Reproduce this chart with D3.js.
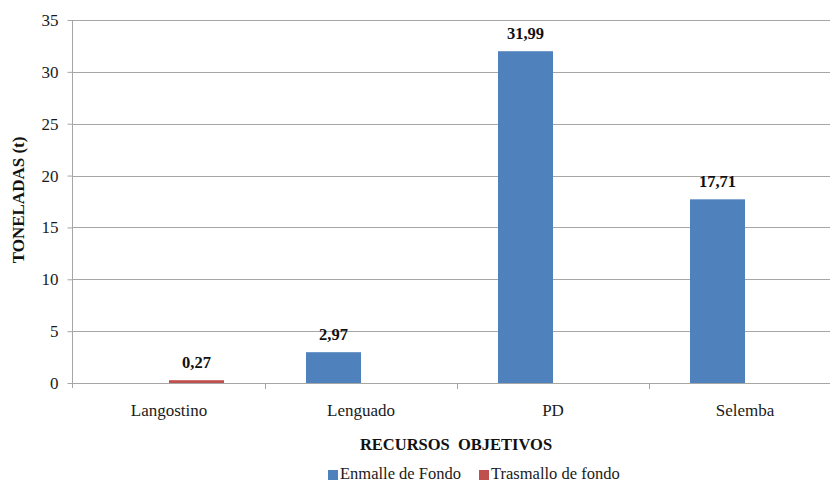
<!DOCTYPE html>
<html><head><meta charset="utf-8">
<script src="https://cdn.jsdelivr.net/npm/d3@7"></script>
<style>body{margin:0;background:#fff}svg{display:block}svg text{font-family:"Liberation Serif","DejaVu Serif",serif}</style>
</head><body><svg id="c" width="830" height="483"></svg>
<script>
const categories = ["Langostino", "Lenguado", "PD", "Selemba"];
const seriesNames = ["Enmalle de Fondo", "Trasmallo de fondo"];
const enmalle = [0, 2.97, 31.99, 17.71];
const trasmallo = [0.27, 0, 0, 0];
const yTicks = [0, 5, 10, 15, 20, 25, 30, 35];
const colors = ["#4F81BD", "#C0504D"];

(function () {
const svg = d3.select("#c");
const pLeft = 73, pRight = 841, pTop = 20, pBottom = 383;

const x = d3.scaleBand().domain(categories).range([pLeft, pRight]).paddingInner(0.427).paddingOuter(0.2135);
const xs = d3.scaleBand().domain(seriesNames).range([0, x.bandwidth()]);
const y = d3.scaleLinear().domain([0, 35]).range([pBottom, pTop]);

// gridlines
svg.append("g").selectAll("line").data(yTicks.filter(d => d > 0)).join("line")
  .attr("x1", pLeft).attr("x2", pRight).attr("y1", d => Math.round(y(d)) + 0.5).attr("y2", d => Math.round(y(d)) + 0.5)
  .attr("stroke", "#a6a6a6").attr("stroke-width", 1);

// y axis
const ya = svg.append("g").attr("transform", `translate(${pLeft - 0.5},0)`)
  .call(d3.axisLeft(y).tickValues(yTicks).tickSize(5).tickPadding(9).tickFormat(d3.format("d")));
ya.attr("font-family", null).attr("font-size", null);
ya.select(".domain").attr("stroke", "#a6a6a6").attr("d", `M0,${pTop}V${pBottom + 5}`);
ya.selectAll(".tick line").attr("stroke", "#a6a6a6");
ya.selectAll(".tick text").attr("font-size", 17).attr("fill", "#1a1a1a");

// x axis
svg.append("line").attr("x1", pLeft).attr("x2", pRight).attr("y1", pBottom + 0.5).attr("y2", pBottom + 0.5).attr("stroke", "#a6a6a6");
const bounds = categories.slice(1).map(c => x(c) - x.step() * x.paddingInner() / 2);
svg.append("g").selectAll("line").data(bounds).join("line")
  .attr("x1", d => Math.round(d) + 0.5).attr("x2", d => Math.round(d) + 0.5).attr("y1", pBottom).attr("y2", pBottom + 6)
  .attr("stroke", "#a6a6a6");
svg.append("g").selectAll("text").data(categories).join("text")
  .attr("x", d => x(d) + x.bandwidth() / 2).attr("y", 416).attr("text-anchor", "middle")
  .attr("font-size", 17).attr("fill", "#1a1a1a").text(d => d);

// bars
const seriesData = [enmalle, trasmallo];
seriesData.forEach((vals, si) => {
  const g = svg.append("g");
  const data = categories.map((c, i) => ({c, v: vals[i]})).filter(d => d.v > 0);
  g.selectAll("rect").data(data).join("rect")
    .attr("x", d => x(d.c) + xs(seriesNames[si])).attr("width", xs.bandwidth())
    .attr("y", d => y(d.v)).attr("height", d => y(0) - y(d.v))
    .attr("fill", colors[si]);
  g.selectAll("text").data(data).join("text")
    .attr("x", d => x(d.c) + xs(seriesNames[si]) + xs.bandwidth() / 2)
    .attr("y", d => y(d.v) - 12.5).attr("text-anchor", "middle")
    .attr("font-size", 16.5).attr("font-weight", "bold").attr("fill", "#111")
    .text(d => d.v.toFixed(2).replace(".", ","));
});

// axis titles
svg.append("text").attr("transform", "translate(24,200) rotate(-90)").attr("text-anchor", "middle")
  .attr("font-size", 17).attr("font-weight", "bold").attr("fill", "#111")
  .text("TONELADAS (t)");
svg.append("text").attr("x", 456).attr("y", 450).attr("text-anchor", "middle")
  .attr("font-size", 16.5).attr("font-weight", "bold").attr("fill", "#111")
  .style("white-space", "pre")
  .text("RECURSOS  OBJETIVOS");

// legend
const legX = [328, 479];
const lg = svg.append("g");
seriesNames.forEach((n, i) => {
  lg.append("rect").attr("x", legX[i]).attr("y", 470).attr("width", 10).attr("height", 10).attr("fill", colors[i]);
  lg.append("text").attr("x", legX[i] + 12).attr("y", 479).attr("font-size", 16.5)
    .attr("fill", "#1a1a1a").text(n);
});
})();
</script></body></html>
